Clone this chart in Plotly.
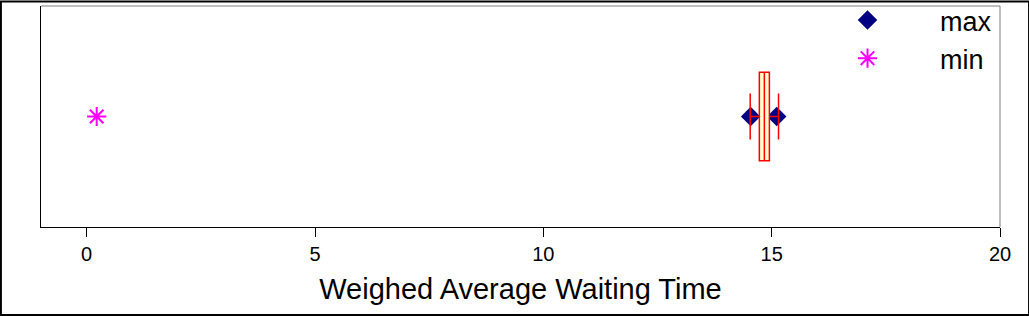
import plotly.graph_objects as go

# ---- data ----
max_x = [14.54, 15.11]
max_y = [1, 1]
min_x = [0.22]
min_y = [1]
box_q1 = 14.73
box_median = 14.84
box_q3 = 14.95
box_pos = 1
box_halfwidth = 0.4
err_low = 14.53
err_high = 15.15
x_ticks = [0, 5, 10, 15, 20]

FONT = "Liberation Sans, Arial, sans-serif"
NB = "\u00a0"

fig = go.Figure()

fig.add_trace(go.Scatter(
    x=max_x, y=max_y, mode="markers", name=NB * 7 + "max",
    marker=dict(symbol="diamond", size=15, color="#000080", line=dict(width=0)),
))

# error bars around the median
fig.add_trace(go.Scatter(
    x=[box_median], y=[box_pos], mode="markers", showlegend=False,
    marker=dict(size=1, color="rgba(0,0,0,0)"),
    error_x=dict(type="data", symmetric=False,
                 array=[err_high - box_median], arrayminus=[box_median - err_low],
                 color="red", thickness=1.5, width=23),
    hoverinfo="skip",
))

fig.add_trace(go.Scatter(
    x=min_x, y=min_y, mode="markers", name=NB * 7 + "min",
    marker=dict(symbol="asterisk-open", size=16, color="#FF00FF",
                line=dict(width=2, color="#FF00FF")),
))

shapes = [
    # box
    dict(type="rect", xref="x", yref="y", x0=box_q1, x1=box_q3,
         y0=box_pos - box_halfwidth, y1=box_pos + box_halfwidth,
         fillcolor="#FFFFCC", line=dict(color="red", width=1.5), layer="above"),
    dict(type="line", xref="x", yref="y", x0=box_median, x1=box_median,
         y0=box_pos - box_halfwidth, y1=box_pos + box_halfwidth,
         line=dict(color="red", width=1.5), layer="above"),
    # top/right frame (gray)
    dict(type="line", xref="paper", yref="paper", x0=0, x1=1, y0=1, y1=1,
         line=dict(color="#808080", width=1)),
    dict(type="line", xref="paper", yref="paper", x0=1, x1=1, y0=0, y1=1,
         line=dict(color="#808080", width=1)),
    # outer border
    dict(type="rect", xref="paper", yref="paper",
         x0=-0.0418, x1=1.0303, y0=-0.3986, y1=1.0203,
         line=dict(color="black", width=2), fillcolor="rgba(0,0,0,0)"),
]

fig.update_layout(
    width=1029, height=316,
    margin=dict(l=41, r=29, t=6, b=89, autoexpand=False),
    paper_bgcolor="white", plot_bgcolor="white",
    font=dict(family=FONT, color="black"),
    shapes=shapes,
    showlegend=True,
    legend=dict(x=0.841, y=1.045, xanchor="left", yanchor="top",
                bgcolor="rgba(0,0,0,0)", font=dict(size=27, family=FONT),
                tracegroupgap=0, itemsizing="trace"),
    xaxis=dict(range=[-1, 20], tickvals=x_ticks, ticktext=[str(t) for t in x_ticks],
               showgrid=False, zeroline=False, showline=True, linecolor="black",
               linewidth=1, ticks="outside", ticklen=9, tickcolor="black",
               tickfont=dict(size=20, family=FONT),
               title=dict(text="Weighed Average Waiting Time",
                          font=dict(size=29, family=FONT), standoff=14)),
    yaxis=dict(range=[0, 2], showgrid=False, zeroline=False, showline=True,
               linecolor="black", linewidth=1, showticklabels=False, ticks=""),
)

fig.write_html(
    "out.html",
    config={"responsive": False, "displayModeBar": False},
    post_script="document.body.style.margin='0';document.body.style.overflow='hidden';",
)
